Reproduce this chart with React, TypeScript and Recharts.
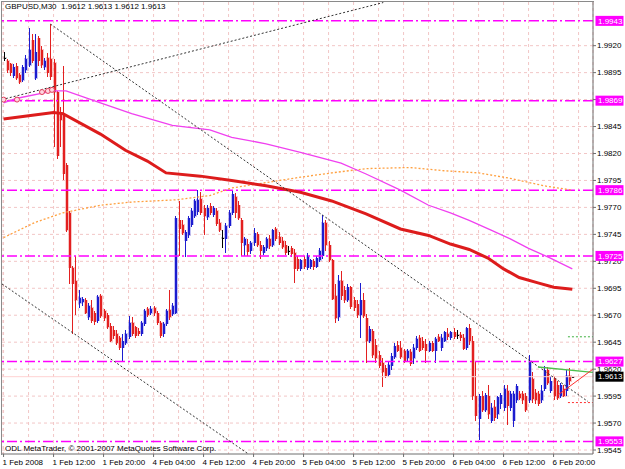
import React from 'react';
import { Bar, CartesianGrid, ComposedChart, Line, ReferenceLine, XAxis, YAxis } from 'recharts';

// GBPUSD M30 candles (bar index = position from the left)
const opens = [
  1.9909, 1.9906, 1.9903, 1.9892, 1.9901, 1.9893, 1.9888, 1.9897, 1.9902, 1.9925,
  1.989, 1.9927, 1.9916, 1.99, 1.9909, 1.9908, 1.9904, 1.9877, 1.9858, 1.9855,
  1.9809, 1.9765, 1.9714, 1.9702, 1.9681, 1.9682, 1.9684, 1.9668, 1.9677, 1.9672,
  1.9665, 1.9688, 1.9674, 1.967, 1.966, 1.9656, 1.9653, 1.9649, 1.964, 1.9644,
  1.965, 1.9663, 1.9659, 1.9655, 1.9653, 1.9662, 1.9676, 1.9672, 1.9677, 1.9672,
  1.9663, 1.9653, 1.9662, 1.9675, 1.9671, 1.9672, 1.9758, 1.9754, 1.9739, 1.9744,
  1.9754, 1.9762, 1.9766, 1.9778, 1.9769, 1.9761, 1.9771, 1.9763, 1.9767, 1.9756,
  1.9742, 1.9741, 1.9753, 1.9765, 1.978, 1.9772, 1.9758, 1.9735, 1.9736, 1.973,
  1.9737, 1.9745, 1.9735, 1.9728, 1.9732, 1.9741, 1.9735, 1.975, 1.9743, 1.9739,
  1.9735, 1.973, 1.9732, 1.9728, 1.9722, 1.9713, 1.9722, 1.9714, 1.9715, 1.972,
  1.9715, 1.9721, 1.9725, 1.9756, 1.9735, 1.9721, 1.9688, 1.9668, 1.9702, 1.9693,
  1.9684, 1.9696, 1.9684, 1.968, 1.967, 1.9684, 1.9667, 1.9646, 1.9655, 1.9642,
  1.9633, 1.9626, 1.9621, 1.9615, 1.9623, 1.9631, 1.9642, 1.964, 1.9637, 1.963,
  1.9636, 1.963, 1.964, 1.9649, 1.9646, 1.9643, 1.9637, 1.9644, 1.9637, 1.965,
  1.964, 1.9646, 1.9653, 1.9649, 1.9654, 1.9652, 1.9652, 1.9649, 1.964, 1.9658,
  1.9646, 1.9595, 1.9574, 1.9595, 1.9582, 1.9595, 1.9572, 1.9585, 1.9578, 1.9588,
  1.9584, 1.96, 1.9584, 1.9572, 1.9591, 1.9597, 1.9597, 1.9595, 1.9591, 1.9611,
  1.9598, 1.9597, 1.9591, 1.9602, 1.9619, 1.96, 1.9611, 1.9605, 1.9595, 1.9602,
  1.96, 1.9614, 1.9612,
];
const highs = [
  1.9914, 1.9908, 1.9904, 1.9903, 1.9904, 1.9895, 1.9902, 1.9911, 1.9936, 1.9931,
  1.9931, 1.9929, 1.992, 1.9909, 1.9913, 1.994, 1.9908, 1.9878, 1.9863, 1.9901,
  1.9811, 1.9767, 1.9716, 1.9725, 1.9693, 1.9687, 1.9686, 1.9681, 1.9684, 1.9674,
  1.9689, 1.969, 1.9676, 1.9672, 1.9663, 1.966, 1.9656, 1.9651, 1.9653, 1.9656,
  1.9669, 1.9668, 1.966, 1.9658, 1.9665, 1.9676, 1.9678, 1.9679, 1.9679, 1.9674,
  1.9665, 1.9664, 1.9676, 1.9693, 1.9681, 1.9762, 1.9776, 1.9758, 1.9749, 1.9762,
  1.9769, 1.9778, 1.9786, 1.9784, 1.9772, 1.9772, 1.9774, 1.9771, 1.9769, 1.9759,
  1.9749, 1.9756, 1.9768, 1.9786, 1.9783, 1.9776, 1.976, 1.9743, 1.9741, 1.9739,
  1.9751, 1.9747, 1.9739, 1.9735, 1.9743, 1.9744, 1.975, 1.9752, 1.9747, 1.9743,
  1.9739, 1.9734, 1.9734, 1.9731, 1.9725, 1.9722, 1.9725, 1.9728, 1.9722, 1.9722,
  1.9725, 1.9732, 1.9763, 1.9758, 1.9739, 1.9722, 1.9699, 1.9707, 1.9711, 1.9697,
  1.9699, 1.9697, 1.9687, 1.9684, 1.97, 1.9691, 1.9671, 1.966, 1.9657, 1.9648,
  1.9637, 1.963, 1.9624, 1.9627, 1.9635, 1.9644, 1.9646, 1.9646, 1.9639, 1.9639,
  1.9639, 1.9643, 1.9651, 1.9652, 1.965, 1.9648, 1.9646, 1.9646, 1.965, 1.9653,
  1.9653, 1.9655, 1.9658, 1.9655, 1.9658, 1.9656, 1.9654, 1.9653, 1.9659, 1.9662,
  1.9651, 1.9628, 1.9597, 1.96, 1.9598, 1.9605, 1.9589, 1.9591, 1.9595, 1.9598,
  1.9605, 1.9605, 1.96, 1.96, 1.9606, 1.96, 1.96, 1.9598, 1.9633, 1.9617,
  1.9602, 1.96, 1.9605, 1.9623, 1.9622, 1.9614, 1.9614, 1.9609, 1.9607, 1.9605,
  1.9619, 1.9621, 1.9613,
];
const lows = [
  1.9906, 1.9895, 1.9892, 1.989, 1.9888, 1.9884, 1.9886, 1.9895, 1.99, 1.9904,
  1.9888, 1.9901, 1.9899, 1.9897, 1.9891, 1.9888, 1.9826, 1.9815, 1.9826, 1.9795,
  1.9747, 1.9699, 1.9653, 1.967, 1.9677, 1.9679, 1.9671, 1.9666, 1.9663, 1.9661,
  1.9663, 1.9667, 1.9665, 1.9657, 1.9645, 1.9648, 1.9642, 1.9638, 1.9628, 1.9642,
  1.9648, 1.9651, 1.9649, 1.9651, 1.9651, 1.966, 1.9668, 1.967, 1.9669, 1.9661,
  1.9649, 1.965, 1.966, 1.9666, 1.9669, 1.9671, 1.9725, 1.9744, 1.9724, 1.9742,
  1.9752, 1.976, 1.9763, 1.9763, 1.9744, 1.9758, 1.9763, 1.9761, 1.9753, 1.9747,
  1.9732, 1.9728, 1.9751, 1.9763, 1.976, 1.9758, 1.9725, 1.9725, 1.9725, 1.9727,
  1.9734, 1.9733, 1.9722, 1.9726, 1.973, 1.9731, 1.9733, 1.9739, 1.9735, 1.9731,
  1.9726, 1.9726, 1.9724, 1.97, 1.9711, 1.9711, 1.9713, 1.9712, 1.9713, 1.9712,
  1.9714, 1.9719, 1.9722, 1.973, 1.9719, 1.9684, 1.9663, 1.9665, 1.9684, 1.9681,
  1.9682, 1.9676, 1.9674, 1.9667, 1.9649, 1.9667, 1.9626, 1.9644, 1.963, 1.9626,
  1.9621, 1.9603, 1.9612, 1.9613, 1.9619, 1.9629, 1.9636, 1.9629, 1.9626, 1.9628,
  1.9623, 1.9625, 1.9638, 1.9636, 1.9638, 1.9626, 1.9636, 1.9636, 1.9626, 1.9645,
  1.9637, 1.9645, 1.9647, 1.9647, 1.9648, 1.9648, 1.9646, 1.9638, 1.9638, 1.9642,
  1.9591, 1.9572, 1.9554, 1.958, 1.958, 1.9574, 1.957, 1.9572, 1.9574, 1.9583,
  1.9581, 1.9568, 1.9581, 1.9566, 1.9589, 1.9591, 1.9588, 1.958, 1.9589, 1.9589,
  1.9588, 1.9586, 1.9589, 1.96, 1.9605, 1.9598, 1.9591, 1.9591, 1.9593, 1.9594,
  1.9595, 1.9605, 1.9612,
];
const closes = [
  1.9909, 1.9897, 1.9895, 1.99, 1.989, 1.9886, 1.99, 1.9908, 1.9916, 1.9906,
  1.9914, 1.9906, 1.9902, 1.9906, 1.9895, 1.9891, 1.9877, 1.9818, 1.9851, 1.9801,
  1.9749, 1.9714, 1.9699, 1.9684, 1.9686, 1.9685, 1.9672, 1.9679, 1.9665, 1.9664,
  1.9687, 1.9669, 1.9667, 1.9659, 1.9646, 1.9651, 1.9644, 1.964, 1.9646, 1.9653,
  1.9663, 1.9653, 1.9651, 1.9653, 1.9663, 1.9674, 1.967, 1.9676, 1.9672, 1.9663,
  1.9651, 1.9662, 1.9674, 1.9668, 1.9679, 1.976, 1.975, 1.9746, 1.9747, 1.976,
  1.9767, 1.9776, 1.9777, 1.9765, 1.9762, 1.9769, 1.9765, 1.9769, 1.9755, 1.9749,
  1.9742, 1.9753, 1.9765, 1.9782, 1.9765, 1.976, 1.9737, 1.9741, 1.9729, 1.9737,
  1.9746, 1.9735, 1.973, 1.9733, 1.9741, 1.9734, 1.9749, 1.9741, 1.9737, 1.9733,
  1.9728, 1.973, 1.9727, 1.9713, 1.9713, 1.9721, 1.9715, 1.9725, 1.9721, 1.9715,
  1.9723, 1.973, 1.9756, 1.9735, 1.9721, 1.9685, 1.9667, 1.9702, 1.9688, 1.9684,
  1.9696, 1.9678, 1.9677, 1.967, 1.9684, 1.9669, 1.9646, 1.9657, 1.9633, 1.963,
  1.9623, 1.9617, 1.9614, 1.9624, 1.9632, 1.9641, 1.9637, 1.9631, 1.9628, 1.9637,
  1.9625, 1.964, 1.9648, 1.9637, 1.964, 1.9637, 1.9644, 1.9637, 1.9648, 1.9646,
  1.9649, 1.9654, 1.965, 1.9654, 1.965, 1.9652, 1.9649, 1.9639, 1.9658, 1.9646,
  1.9595, 1.9577, 1.9595, 1.9582, 1.9596, 1.9578, 1.9584, 1.9575, 1.9594, 1.9596,
  1.9602, 1.9586, 1.9597, 1.9597, 1.9604, 1.9593, 1.9591, 1.9582, 1.9628, 1.9592,
  1.9591, 1.9588, 1.96, 1.9619, 1.9607, 1.9609, 1.9595, 1.9593, 1.9605, 1.9595,
  1.9614, 1.9609, 1.9613,
];

// moving averages, sampled along the drawn lines
const maSlowBars = [0, 16, 19, 31, 39, 46, 52, 63, 73, 84, 95, 105, 116, 127, 136, 143, 149, 155, 160, 165, 171, 176, 182];
const maSlowValues = [1.9852, 1.9858, 1.9857, 1.9838, 1.9823, 1.9813, 1.9802, 1.9799, 1.9795, 1.979, 1.9784, 1.9776, 1.9764, 1.975, 1.9744, 1.9736, 1.9731, 1.9723, 1.9713, 1.9705, 1.97, 1.9696, 1.9694];
const maMidBars = [0, 4, 16, 20, 31, 41, 54, 66, 73, 84, 95, 108, 116, 127, 136, 143, 149, 156, 162, 168, 175, 182];
const maMidValues = [1.9867, 1.9871, 1.9878, 1.9878, 1.9867, 1.9857, 1.9846, 1.9842, 1.9835, 1.9829, 1.9821, 1.9811, 1.9801, 1.9786, 1.9772, 1.9765, 1.9758, 1.9749, 1.9741, 1.9732, 1.9723, 1.9713];
const maFastBars = [0, 10, 19, 31, 41, 55, 66, 73, 84, 95, 105, 116, 130, 141, 152, 162, 173, 182];
const maFastValues = [1.9742, 1.9756, 1.9765, 1.9772, 1.9775, 1.9777, 1.9781, 1.9788, 1.9793, 1.9798, 1.9802, 1.9806, 1.9807, 1.9804, 1.9802, 1.9797, 1.979, 1.9786];

const levelPrices = [1.9943, 1.9869, 1.9786, 1.9725, 1.9627, 1.9553];
const bidPrice = 1.9613;

const priceTicks = [1.9545, 1.957, 1.9595, 1.962, 1.9645, 1.967, 1.9695, 1.972, 1.9745, 1.977, 1.9795, 1.982, 1.9845, 1.987, 1.9895, 1.992];
const gridBars = [0, 8, 16, 24, 32, 40, 48, 56, 64, 72, 80, 88, 96, 104, 112, 120, 128, 136, 144, 152, 160, 168, 176, 184];
const timeLabelBars = [0, 16, 32, 48, 64, 80, 96, 112, 128, 144, 160, 176];
const timeLabels = [
  '1 Feb 2008', '1 Feb 12:00', '1 Feb 20:00', '4 Feb 04:00', '4 Feb 12:00', '4 Feb 20:00',
  '5 Feb 04:00', '5 Feb 12:00', '5 Feb 20:00', '6 Feb 04:00', '6 Feb 12:00', '6 Feb 20:00',
];

// drawn objects: [bar1, price1, bar2, price2]
const dottedTrends = [
  [15, 1.994, 187, 1.959],
  [-0.5, 1.987, 121.5, 1.996],
  [-0.5, 1.9699, 79, 1.954],
];
const greenTrend = [171, 1.9622, 188.6, 1.9617];
const redTrend = [177.4, 1.9596, 188.6, 1.962];
const greenStop = [180.6, 1.965, 188.6, 1.965];
const redStop = [180.6, 1.9589, 188.6, 1.9589];
const markerBars = [0, 4.3, 12.3, 14.2, 15.5];
const markerPrices = [1.987, 1.987, 1.9877, 1.9878, 1.9879];

const FONT = '"Liberation Sans", Arial, sans-serif';
const BULL = '#1c1ccf';
const BEAR = '#e32020';
const BULL_SOFT = '#9c9cec';
const BEAR_SOFT = '#f4a0a0';
const AXIS = '#6e6e6e';

const candles = opens.map((o, i) => ({ i, o, h: highs[i], l: lows[i], c: closes[i] }));
const toSeries = (bars: number[], vals: number[]) => bars.map((i, k) => ({ i, v: vals[k] }));
const maSlow = toSeries(maSlowBars, maSlowValues);
const maMid = toSeries(maMidBars, maMidValues);
const maFast = toSeries(maFastBars, maFastValues);
const markers = toSeries(markerBars, markerPrices);

// plain ticks first, price tags after so they paint over the axis labels
const axisTicks = [...priceTicks, ...levelPrices, bidPrice];

function Candle(props: any) {
  const { x, y, width, height, payload } = props;
  if (x == null || y == null || !payload) return null;
  const top = Math.min(y, y + height);
  const bottom = Math.max(y, y + height);
  const span = payload.h - payload.l || 1e-9;
  const yOf = (p: number) => top + ((payload.h - p) / span) * (bottom - top);
  const cx = Math.round(x + width / 2);
  const diff = payload.c - payload.o;
  const doji = Math.abs(diff) < 0.00015;
  const color = doji ? '#000' : diff > 0 ? BULL : BEAR;
  const soft = doji ? '#b0b0b0' : diff > 0 ? BULL_SOFT : BEAR_SOFT;
  const bTop = Math.min(yOf(payload.o), yOf(payload.c));
  const bBot = Math.max(yOf(payload.o), yOf(payload.c));
  const bH = Math.max(1, bBot - bTop);
  return (
    <g shapeRendering="crispEdges">
      <rect x={cx - 1.5} y={bTop - 0.5} width={4} height={bH + 1} fill={soft} opacity={0.6} />
      <line x1={cx + 0.5} x2={cx + 0.5} y1={top} y2={bottom} stroke={color} />
      <rect x={cx - 0.5} y={bTop} width={2} height={bH} fill={color} />
    </g>
  );
}

function TimeTick(props: any) {
  const { x, y, payload } = props;
  const k = timeLabelBars.indexOf(payload.value);
  if (k < 0) return <g />;
  return (
    <g>
      <line x1={x} x2={x} y1={y} y2={y + 3} stroke={AXIS} />
      <text x={x - 1} y={y + 11} fontSize={8} fill="#000" textAnchor="start">
        {timeLabels[k]}
      </text>
    </g>
  );
}

function PriceTick(props: any) {
  const { x, y, payload } = props;
  const v = payload.value;
  const isLevel = levelPrices.includes(v);
  if (isLevel || v === bidPrice) {
    return (
      <g>
        <rect x={x - 1.5} y={y - 5} width={28} height={10} fill={isLevel ? '#ff00ff' : '#000'} />
        <text x={x + 1} y={y} dy="0.35em" fontSize={8} fill="#fff">
          {v.toFixed(4)}
        </text>
      </g>
    );
  }
  return (
    <g>
      <line x1={x - 4} x2={x - 1} y1={y} y2={y} stroke={AXIS} />
      <text x={x} y={y} dy="0.35em" fontSize={8} fill="#000">
        {v.toFixed(4)}
      </text>
    </g>
  );
}

const seg = (s: number[]) => [
  { x: s[0], y: s[1] },
  { x: s[2], y: s[3] },
];

export default function App() {
  return (
    <div style={{ position: 'absolute', left: 0, top: 0, width: 625, height: 469, background: '#fff', fontFamily: FONT }}>
      <ComposedChart width={625} height={469} data={candles} margin={{ top: 2, right: 0, bottom: 0, left: 2 }}>
        <CartesianGrid stroke="#f2c6c6" strokeDasharray="3 3" horizontalValues={priceTicks} />
        <XAxis
          dataKey="i"
          type="number"
          domain={[-0.5, 188.62]}
          allowDataOverflow
          ticks={gridBars}
          interval={0}
          height={15}
          tickSize={0}
          tickMargin={0}
          tickLine={false}
          axisLine={{ stroke: AXIS }}
          tick={<TimeTick />}
        />
        <YAxis
          orientation="right"
          type="number"
          domain={[1.95413, 1.99605]}
          allowDataOverflow
          ticks={axisTicks}
          interval={0}
          width={32}
          tickSize={3}
          tickMargin={1}
          tickLine={false}
          axisLine={{ stroke: AXIS }}
          tick={<PriceTick />}
        />
        <ReferenceLine y={bidPrice} stroke="#ffd2d2" />
        {levelPrices.map((p) => (
          <ReferenceLine key={p} y={p} stroke="#ff00ff" strokeWidth={1.5} strokeDasharray="10 3 2 3" />
        ))}
        <Bar dataKey={(d: any) => [d.l, d.h]} shape={<Candle />} barSize={2} isAnimationActive={false} />
        <Line data={maFast} dataKey="v" type="linear" stroke="#ffa040" strokeWidth={1.3} strokeDasharray="2 2" dot={false} activeDot={false} isAnimationActive={false} />
        <Line data={maMid} dataKey="v" type="linear" stroke="#f040f0" strokeWidth={1.3} dot={false} activeDot={false} isAnimationActive={false} />
        <Line data={maSlow} dataKey="v" type="linear" stroke="#dd1c1c" strokeWidth={3} dot={false} activeDot={false} isAnimationActive={false} />
        {dottedTrends.map((s, k) => (
          <ReferenceLine key={`t${k}`} segment={seg(s)} stroke="#333" strokeDasharray="2 2" ifOverflow="hidden" />
        ))}
        <ReferenceLine segment={seg(greenTrend)} stroke="#4cc04c" strokeWidth={1.3} ifOverflow="hidden" />
        <ReferenceLine segment={seg(redTrend)} stroke="#ff3030" ifOverflow="hidden" />
        <ReferenceLine segment={seg(greenStop)} stroke="#40b040" strokeDasharray="2 2" ifOverflow="hidden" />
        <ReferenceLine segment={seg(redStop)} stroke="#ff3030" strokeDasharray="2 2" ifOverflow="hidden" />
        <Line
          data={markers}
          dataKey="v"
          stroke="none"
          activeDot={false}
          isAnimationActive={false}
          dot={(p: any) => <circle key={`m${p.index}`} cx={p.cx} cy={p.cy} r={2.5} fill="#ffd6e2" stroke="#e0405a" strokeWidth={1} />}
        />
      </ComposedChart>
      <div
        style={{
          position: 'absolute',
          left: 1,
          top: 1,
          width: 592,
          height: 453,
          borderLeft: '1px solid #8a8a8a',
          borderTop: '1px solid #8a8a8a',
          pointerEvents: 'none',
        }}
      />
      <div style={{ position: 'absolute', left: 5, top: 2, fontSize: 8, lineHeight: '10px', whiteSpace: 'pre', color: '#000' }}>
        GBPUSD,M30  1.9612 1.9613 1.9612 1.9613
      </div>
      <div style={{ position: 'absolute', left: 5, top: 444, fontSize: 8, lineHeight: '10px', whiteSpace: 'pre', color: '#000' }}>
        ODL MetaTrader, © 2001-2007 MetaQuotes Software Corp.
      </div>
    </div>
  );
}
